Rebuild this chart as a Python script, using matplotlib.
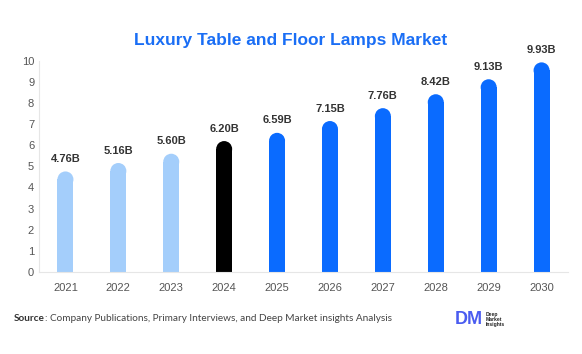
import matplotlib
matplotlib.use("Agg")
import matplotlib.pyplot as plt
from matplotlib.patches import Ellipse

years = ["2021", "2022", "2023", "2024", "2025", "2026", "2027", "2028", "2029", "2030"]
values = [4.76, 5.16, 5.60, 6.20, 6.59, 7.15, 7.76, 8.42, 9.13, 9.93]
labels = ["4.76B", "5.16B", "5.60B", "6.20B", "6.59B", "7.15B", "7.76B", "8.42B", "9.13B", "9.93B"]
colors = ["#a4cefb"] * 3 + ["#000000"] + ["#0a6bff"] * 6

plt.rcParams["font.family"] = ["Liberation Sans", "DejaVu Sans"]
fig = plt.figure(figsize=(5.82, 3.54), dpi=100)
ax = fig.add_axes([0.067, 0.232, 0.909, 0.596])
ax.set_xlim(-0.5, 9.5)
ax.set_ylim(0, 10)

# rounded bar tops: straight part plus an ellipse cap sized in pixels
bar_px = 16
x_per_px = 10 / (0.909 * 582)
y_per_px = 10 / (0.596 * 354)
w = bar_px * x_per_px
r_y = (bar_px / 2) * y_per_px
for i, (v, c) in enumerate(zip(values, colors)):
    ax.bar(i, v - r_y, width=w, color=c, zorder=2)
    ax.add_patch(Ellipse((i, v - r_y), w, 2 * r_y, color=c, zorder=2, lw=0))
    ax.text(i, v + 0.35, labels[i], ha="center", va="bottom", fontsize=8,
            fontweight="bold", color="#333333")

ax.set_xticks(range(len(years)))
ax.set_xticklabels(years)
ax.set_yticks(range(0, 11))
ax.tick_params(length=0, labelsize=8, colors="#555555")
ax.tick_params(axis="x", pad=8)
for s in ["top", "right"]:
    ax.spines[s].set_visible(False)
for s in ["left", "bottom"]:
    ax.spines[s].set_color("#e6e6e6")

fig.text(0.5, 0.885, "Luxury Table and Floor Lamps Market", ha="center", va="center",
         fontsize=12.5, fontweight="bold", color="#1a6ef5")

src = fig.text(0.024, 0.1, "Source", ha="left", va="center", fontsize=7.2,
               fontweight="bold", color="#333333", family=["Lato", "DejaVu Sans"])
fig.canvas.draw()
bb = src.get_window_extent()
fig.text(bb.x1 / fig.bbox.width, 0.1,
         ": Company Publications, Primary Interviews, and Deep Market insights Analysis",
         ha="left", va="center", fontsize=7.2, color="#444444", family=["Lato", "DejaVu Sans"])

fig.text(0.805, 0.098, "DM", ha="center", va="center", fontsize=13, fontweight="bold",
         color="#4a5cf0")
fig.text(0.834, 0.098, "Deep\nMarket\nInsights", ha="left", va="center", fontsize=3.6,
         fontweight="bold", color="#222222", linespacing=1.0)

fig.savefig("out.png", dpi=100)
